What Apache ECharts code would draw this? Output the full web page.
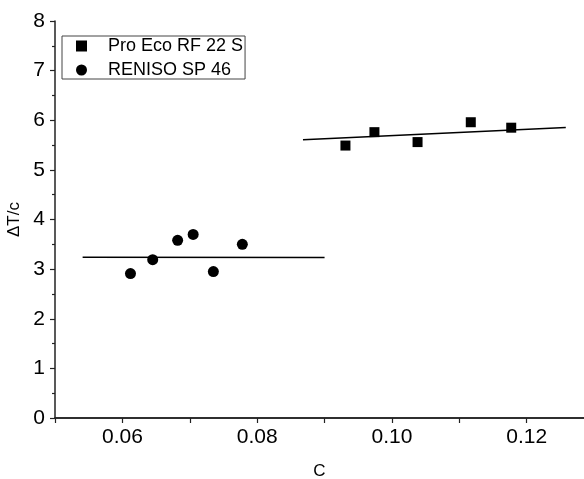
<!DOCTYPE html>
<html><head><meta charset="utf-8">
<script src="https://cdn.jsdelivr.net/npm/echarts@6/dist/echarts.min.js"></script>
<style>html,body{margin:0;padding:0;background:#fff}#c{width:584px;height:479px}</style>
</head><body><div id="c"></div>
<script>
const seriesNames = ['Pro Eco RF 22 S', 'RENISO SP 46'];
const proEcoC = [0.0931, 0.0974, 0.1038, 0.1117, 0.1177];
const proEcoDT = [5.49, 5.76, 5.56, 5.96, 5.85];
const renisoC = [0.0612, 0.0645, 0.0682, 0.0705, 0.0735, 0.0778];
const renisoDT = [2.91, 3.19, 3.58, 3.70, 2.95, 3.50];
const proEcoFitC = [0.0868, 0.1258];
const proEcoFitDT = [5.605, 5.855];
const renisoFitC = [0.0541, 0.0900];
const renisoFitDT = [3.24, 3.235];
const xTickLabels = ['0.06', '0.08', '0.10', '0.12'];
const yTickLabels = ['0', '1', '2', '3', '4', '5', '6', '7', '8'];

const zip = (a, b) => a.map((v, i) => [v, b[i]]);
const FONT = 'Liberation Sans';
const chart = echarts.init(document.getElementById('c'), null, { renderer: 'canvas' });
chart.setOption({
  animation: false,
  backgroundColor: '#fff',
  grid: { left: 55, right: 0, top: 21, bottom: 61, containLabel: false, outerBoundsMode: 'none' },
  legend: {
    orient: 'vertical', left: 62, top: 36,
    data: [{ name: seriesNames[0], icon: 'rect' }, { name: seriesNames[1], icon: 'circle' }],
    borderColor: '#444', borderWidth: 1, borderRadius: 0,
    padding: [1, 2, 0, 14],
    itemWidth: 11, itemHeight: 11, itemGap: 6,
    itemStyle: { opacity: 1 },
    textStyle: { fontFamily: FONT, fontSize: 18, lineHeight: 18, color: '#000', padding: [0, 0, 0, 16] }
  },
  xAxis: [{
    type: 'value', min: 0.05, max: 0.1285, interval: 0.01,
    name: 'C', nameLocation: 'middle', nameGap: 45,
    nameTextStyle: { fontFamily: FONT, fontSize: 17, color: '#000' },
    axisLine: { show: true, onZero: false, lineStyle: { color: '#222', width: 1.5 } },
    axisTick: { show: true, inside: false, length: 5, lineStyle: { color: '#222', width: 1.2 } },
    axisLabel: {
      fontFamily: FONT, fontSize: 21, color: '#000', margin: 9, showMaxLabel: false,
      formatter: v => {
        if (Math.abs(v * 100 - Math.round(v * 100)) > 1e-6) return '';
        const s = v.toFixed(2); return xTickLabels.includes(s) ? s : '';
      }
    },
    splitLine: { show: false }
  }, {
    type: 'value', position: 'top', min: 0.05, max: 0.1285,
    axisLine: { show: true, lineStyle: { color: '#222', width: 1.5 } },
    axisTick: { show: false }, axisLabel: { show: false }, splitLine: { show: false }
  }],
  yAxis: {
    type: 'value', min: 0, max: 8, interval: 1,
    name: 'ΔT/c', nameLocation: 'middle', nameGap: 31, nameRotate: 90,
    nameTextStyle: { fontFamily: FONT, fontSize: 17, color: '#000' },
    axisLine: { show: true, onZero: false, lineStyle: { color: '#222', width: 1.5 } },
    axisTick: { show: true, inside: false, length: 5, lineStyle: { color: '#222', width: 1.2 } },
    minorTick: { show: true, splitNumber: 2, length: 3, lineStyle: { color: '#222', width: 1.2 } },
    axisLabel: {
      fontFamily: FONT, fontSize: 21, color: '#000', margin: 10,
      formatter: v => yTickLabels[Math.round(v)] ?? ''
    },
    splitLine: { show: false }
  },
  series: [
    { name: 'fitPro', type: 'line', data: zip(proEcoFitC, proEcoFitDT), symbol: 'none', silent: true,
      lineStyle: { color: '#000', width: 1.5 }, z: 1 },
    { name: 'fitReniso', type: 'line', data: zip(renisoFitC, renisoFitDT), symbol: 'none', silent: true,
      lineStyle: { color: '#000', width: 1.5 }, z: 1 },
    { name: seriesNames[0], type: 'scatter', symbol: 'rect', symbolSize: 10,
      itemStyle: { color: '#000', opacity: 1 }, data: zip(proEcoC, proEcoDT), z: 3 },
    { name: seriesNames[1], type: 'scatter', symbol: 'circle', symbolSize: 11,
      itemStyle: { color: '#000', opacity: 1 }, data: zip(renisoC, renisoDT), z: 3 }
  ]
});
</script>
</body></html>
